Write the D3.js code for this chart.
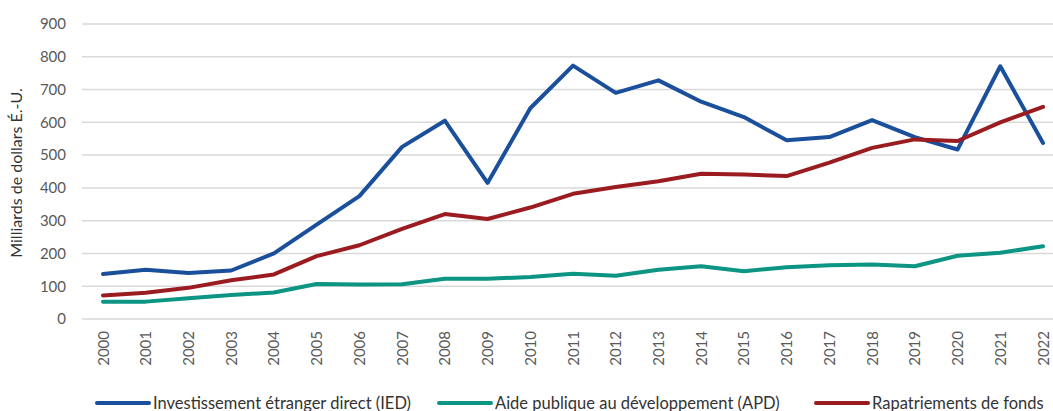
<!DOCTYPE html>
<html>
<head>
<meta charset="utf-8">
<script src="https://cdn.jsdelivr.net/npm/d3@7"></script>
<style>
  body { margin: 0; background: #fff; }
  text { font-family: Lato, 'Open Sans', sans-serif; }
</style>
</head>
<body>
<div id="chart"></div>
<script>
const years = ['2000', '2001', '2002', '2003', '2004', '2005', '2006', '2007', '2008', '2009', '2010',
  '2011', '2012', '2013', '2014', '2015', '2016', '2017', '2018', '2019', '2020', '2021', '2022'];

const ied = [137, 150, 140, 148, 200, 288, 375, 525, 605, 415, 643, 773, 690, 728, 663, 616, 545, 555, 607, 555, 517, 771, 537];
const apd = [53, 53, 63, 73, 81, 107, 105, 106, 123, 123, 128, 138, 132, 150, 161, 146, 158, 164, 166, 161, 193, 202, 222];
const rapatriements = [72, 80, 95, 118, 136, 192, 225, 275, 320, 305, 340, 382, 403, 420, 443, 441, 436, 477, 522, 548, 543, 600, 647];

const yTicks = [0, 100, 200, 300, 400, 500, 600, 700, 800, 900];

const seriesNames = ['Investissement étranger direct (IED)', 'Aide publique au développement (APD)', 'Rapatriements de fonds'];
const seriesColors = ['#1a4f9c', '#0b9582', '#9b1c20'];
const seriesValues = [ied, apd, rapatriements];

const width = 1053;
const height = 411;

const svg = d3.select('#chart')
  .append('svg')
  .attr('width', width)
  .attr('height', height);

// scales
const x = d3.scalePoint()
  .domain(years)
  .range([103, 1043]);

const y = d3.scaleLinear()
  .domain([0, 900])
  .range([319, 24]);

// gridlines
svg.append('g')
  .selectAll('line')
  .data(yTicks)
  .enter()
  .append('line')
  .attr('x1', 82)
  .attr('x2', width)
  .attr('y1', (d) => y(d))
  .attr('y2', (d) => y(d))
  .attr('stroke', '#d9d9d9')
  .attr('stroke-width', 1.5);

// y axis
const yAxis = svg.append('g')
  .attr('transform', 'translate(66,0)')
  .call(d3.axisLeft(y).tickValues(yTicks).tickSize(0).tickPadding(0));
yAxis.select('.domain').remove();
yAxis.selectAll('text')
  .style('font-size', '15px')
  .style('font-family', 'Lato, sans-serif')
  .attr('fill', '#595959');

// x axis
const xAxis = svg.append('g')
  .attr('transform', 'translate(0,331)')
  .call(d3.axisBottom(x).tickSize(0).tickPadding(0));
xAxis.select('.domain').remove();
xAxis.selectAll('text')
  .style('font-size', '15px')
  .style('font-family', 'Lato, sans-serif')
  .attr('fill', '#595959')
  .attr('text-anchor', 'end')
  .attr('dy', null)
  .attr('y', 0)
  .attr('transform', 'rotate(-90) translate(0,5)');

// y label
svg.append('text')
  .attr('transform', 'translate(22,173) rotate(-90)')
  .attr('text-anchor', 'middle')
  .style('font-size', '16px')
  .attr('fill', '#333')
  .text('Milliards de dollars É.-U.');

// lines
const line = d3.line()
  .x((d, i) => x(years[i]))
  .y((d) => y(d));

svg.append('g')
  .selectAll('path')
  .data(seriesValues)
  .enter()
  .append('path')
  .attr('d', (d) => line(d))
  .attr('fill', 'none')
  .attr('stroke', (d, i) => seriesColors[i])
  .attr('stroke-width', 4)
  .attr('stroke-linejoin', 'round')
  .attr('stroke-linecap', 'round');

// legend
const legendX = [97, 439, 816];
const legend = svg.append('g')
  .selectAll('g')
  .data(seriesNames)
  .enter()
  .append('g')
  .attr('transform', (d, i) => 'translate(' + legendX[i] + ',403)');

legend.append('line')
  .attr('x1', 0)
  .attr('x2', 52)
  .attr('stroke', (d, i) => seriesColors[i])
  .attr('stroke-width', 4)
  .attr('stroke-linecap', 'round');

legend.append('text')
  .attr('x', 56)
  .attr('y', 6)
  .style('font-size', '16.5px')
  .attr('fill', '#333')
  .text((d) => d);
</script>
</body>
</html>
